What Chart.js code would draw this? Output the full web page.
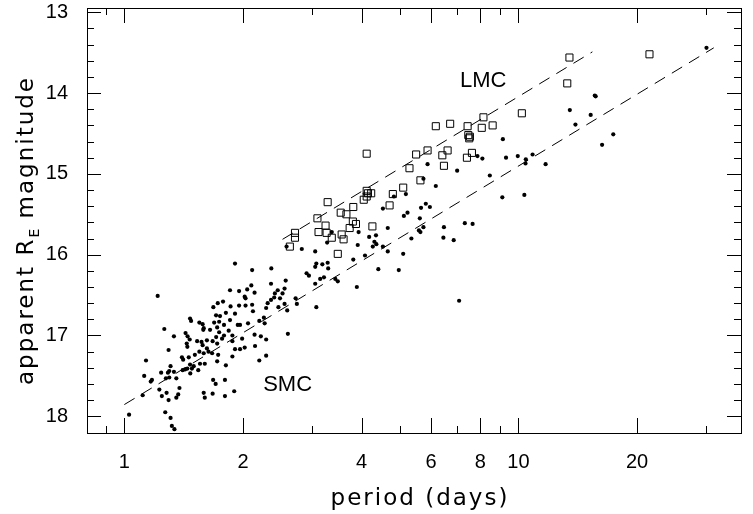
<!DOCTYPE html>
<html lang="en">
<head>
  <meta charset="UTF-8">
  <title>Period - magnitude relation</title>
  <script src="https://cdn.jsdelivr.net/npm/chart.js"></script>
  <style>
    body { margin: 0; background: #fff; }
    canvas { display: block; }
  </style>
</head>
<body>
  <canvas id="plChart" width="753" height="514"></canvas>

  <script>
    // SMC stars (filled dots)
    const smcPeriod = [
      1.215, 1.726, 1.682, 1.709, 1.468, 1.477, 1.55, 1.58, 1.69, 1.72, 1.263, 1.586, 1.43, 1.447, 1.336,
      1.465, 1.53, 1.57, 1.62, 1.675, 1.71, 1.72, 1.44, 1.445, 1.58, 1.295, 1.55, 1.59, 1.635, 1.67,
      1.73, 1.40, 1.41, 1.457, 1.72, 1.468, 1.50, 1.484, 1.445, 1.426, 1.406, 1.54, 1.556, 1.60, 1.135,
      1.31, 1.30, 1.336, 1.29, 1.24, 1.47, 1.123, 1.175, 1.167, 1.30, 1.355, 1.275, 1.68, 1.705, 1.227,
      1.38, 1.28, 1.245, 1.37, 1.355, 1.295, 1.113, 1.59, 1.60, 1.675, 1.27, 1.028, 1.31, 1.32, 1.34,
      1.909, 2.11, 2.36, 2.90, 2.94, 2.567, 2.356, 2.10, 1.854, 1.955, 2.05, 2.14, 2.55, 2.45, 2.41,
      2.52, 2.02, 2.03, 2.40, 2.483, 2.72, 2.356, 2.31, 2.55, 2.74, 2.11, 2.12, 1.955, 2.03, 1.86,
      1.78, 2.46, 2.29, 2.59, 1.81, 1.909, 1.749, 1.74, 1.854, 2.26, 2.20, 1.79, 1.94, 1.966, 2.06,
      2.27, 1.84, 1.74, 1.88, 1.79, 2.14, 2.22, 1.77, 1.88, 1.99, 2.29, 2.02, 1.909, 1.966, 2.146,
      1.88, 1.81, 2.20, 2.29, 2.60, 1.80, 1.90, 1.80, 1.59, 1.65, 1.51, 1.62,
      2.58, 2.82, 3.05, 3.27, 3.36, 3.93, 3.91, 4.18, 4.35, 4.31, 4.36, 4.08, 4.41, 3.81, 3.07,
      3.18, 3.28, 3.05, 3.14, 3.21, 3.29, 3.05, 3.43, 3.48, 3.89, 3.07,
      5.88, 6.99, 5.74, 6.17, 4.83, 5.18, 4.53, 5.66, 5.82, 5.96, 5.12, 5.23, 5.62, 7.31, 7.65,
      4.66, 6.47, 5.59, 5.64, 5.74, 6.45, 6.85, 5.35, 4.27, 4.53, 4.66, 5.10, 4.97, 7.07,
      13.5, 13.95, 9.13, 7.87, 8.1, 9.3, 9.96, 10.44, 10.86, 10.42, 11.72, 8.46, 9.1, 10.35,
      30.0, 15.62, 15.7, 15.25, 17.4, 16.3
    ];
    const smcMag = [
      16.51, 16.60, 16.65, 16.75, 16.79, 16.82, 16.84, 16.86, 16.84, 16.90, 16.92, 16.93, 16.97, 17.01, 17.01,
      17.05, 17.07, 17.08, 17.06, 17.07, 17.02, 17.10, 17.10, 17.14, 17.12, 17.18, 17.20, 17.22, 17.20, 17.22,
      17.24, 17.27, 17.30, 17.27, 17.32, 17.36, 17.38, 17.41, 17.41, 17.42, 17.43, 17.43, 17.35, 17.35, 17.31,
      17.38, 17.44, 17.45, 17.46, 17.46, 17.47, 17.50, 17.55, 17.57, 17.52, 17.53, 17.53, 17.55, 17.60, 17.67,
      17.65, 17.71, 17.75, 17.73, 17.77, 17.80, 17.74, 17.71, 17.77, 17.72, 17.95, 17.98, 18.02, 18.12, 18.16,
      16.11, 16.19, 16.17, 16.23, 16.26, 16.32, 16.36, 16.38, 16.44, 16.45, 16.43, 16.47, 16.42, 16.44, 16.48,
      16.48, 16.52, 16.54, 16.53, 16.54, 16.54, 16.56, 16.60, 16.61, 16.61, 16.62, 16.70, 16.63, 16.63, 16.64,
      16.58, 16.65, 16.66, 16.69, 16.72, 16.73, 16.76, 16.83, 16.81, 16.78, 16.82, 16.87, 16.87, 16.87, 16.85,
      16.85, 16.94, 16.96, 17.00, 17.00, 16.99, 17.01, 17.04, 17.07, 17.04, 17.05, 17.15, 17.17, 17.17, 17.13,
      17.26, 17.37, 17.31, 17.25, 16.98, 17.55, 17.69, 17.75, 16.91, 16.93, 17.24, 17.16,
      15.90, 15.93, 15.96, 15.85, 15.72, 15.72, 15.88, 15.78, 15.76, 15.84, 15.87, 16.01, 16.18, 16.06, 16.11,
      16.12, 16.10, 16.15, 16.30, 16.28, 16.17, 16.36, 16.30, 16.33, 16.40, 16.65,
      14.88, 14.96, 15.06, 15.15, 15.28, 15.25, 15.43, 15.42, 15.37, 15.41, 15.52, 15.48, 15.55, 15.61, 15.62,
      15.67, 15.66, 15.70, 15.72, 15.66, 15.79, 15.82, 15.80, 15.90, 15.90, 15.96, 15.99, 16.19, 16.57,
      14.21, 14.39, 14.57, 14.78, 14.81, 14.80, 14.78, 14.82, 14.76, 14.87, 14.88, 15.02, 15.29, 15.26,
      13.44, 14.03, 14.04, 14.27, 14.51, 14.64
    ];

    // LMC stars (open squares)
    const lmcPeriod = [
      2.63, 2.71, 2.71, 3.09, 3.28, 3.11, 3.24, 3.26, 3.36, 3.54, 3.66, 3.81, 3.80, 3.87, 3.73,
      3.56, 3.60, 3.48, 4.26, 4.05, 4.12, 4.15, 4.12, 4.12, 4.23, 4.71, 4.80, 5.10, 5.64, 5.29,
      6.47, 5.50, 5.88, 6.41, 6.61, 6.17, 6.71, 7.43, 7.46, 7.53, 7.50, 7.40, 7.62, 8.07, 8.60,
      8.15, 10.2, 13.3, 13.47, 21.5
    ];
    const lmcMag = [
      15.90, 15.73, 15.79, 15.55, 15.35, 15.72, 15.64, 15.73, 15.79, 15.48, 15.50, 15.41, 15.59, 15.62, 15.67,
      15.75, 15.81, 15.99, 15.65, 15.32, 15.28, 15.24, 15.21, 14.75, 15.24, 15.39, 15.25, 15.17, 15.08, 14.93,
      14.90, 14.76, 14.71, 14.77, 14.71, 14.41, 14.38, 14.41, 14.52, 14.54, 14.56, 14.80, 14.74, 14.43, 14.40,
      14.30, 14.25, 13.88, 13.56, 13.52
    ];

    // dashed P-L relations (end points)
    const smcFitPeriod = [1.0, 31.3];
    const smcFitMag = [17.855, 13.44];
    const lmcFitPeriod = [2.52, 15.4];
    const lmcFitMag = [15.81, 13.49];

    // axes
    const xMajorTicks = [1, 2, 4, 6, 8, 10, 20];
    const xMinorTicks = [0.9, 3, 5, 7, 9, 30];
    const yMajorTicks = [13, 14, 15, 16, 17, 18];
    const yMinorTicks = [13.2, 13.4, 13.6, 13.8, 14.2, 14.4, 14.6, 14.8, 15.2, 15.4, 15.6, 15.8,
                         16.2, 16.4, 16.6, 16.8, 17.2, 17.4, 17.6, 17.8];

    // labels inside the plot
    const labelText = ['LMC', 'SMC'];
    const labelPeriod = [8.14, 2.596];
    const labelMag = [13.854, 17.616];

    const toPoints = (xs, ys) => xs.map((v, i) => ({ x: v, y: ys[i] }));

    const titleFont = '23px "DejaVu Sans", sans-serif';
    const subFont = '14px "DejaVu Sans", sans-serif';

    const frame = {
      id: 'frame',
      afterDraw(chart) {
        const ctx = chart.ctx;
        const a = chart.chartArea;
        const x = chart.scales.x;
        const y = chart.scales.y;
        ctx.save();
        ctx.strokeStyle = '#000';
        ctx.lineWidth = 1;
        ctx.strokeRect(a.left + 0.5, a.top + 0.5, a.right - a.left, a.bottom - a.top);

        ctx.beginPath();
        const xTick = (v, len) => {
          const px = Math.round(x.getPixelForValue(v)) + 0.5;
          ctx.moveTo(px, a.bottom); ctx.lineTo(px, a.bottom - len);
          ctx.moveTo(px, a.top); ctx.lineTo(px, a.top + len);
        };
        const yTick = (v, len) => {
          const py = Math.round(y.getPixelForValue(v)) + 0.5;
          ctx.moveTo(a.left, py); ctx.lineTo(a.left + len, py);
          ctx.moveTo(a.right, py); ctx.lineTo(a.right - len, py);
        };
        xMajorTicks.forEach(v => xTick(v, 15));
        xMinorTicks.forEach(v => xTick(v, 7));
        yMajorTicks.forEach(v => yTick(v, 14));
        yMinorTicks.forEach(v => yTick(v, 7));
        ctx.stroke();

        ctx.fillStyle = '#000';
        ctx.font = '22px "Liberation Sans", Arial, sans-serif';
        ctx.textAlign = 'center';
        ctx.textBaseline = 'middle';
        labelText.forEach((t, i) => {
          ctx.fillText(t, x.getPixelForValue(labelPeriod[i]), y.getPixelForValue(labelMag[i]));
        });

        // axis titles
        ctx.font = titleFont;
        ctx.letterSpacing = '2px';
        ctx.textBaseline = 'alphabetic';
        ctx.fillText('period (days)', (a.left + a.right) / 2 + 6, 505);

        ctx.translate(33, (a.top + a.bottom) / 2 + 10);
        ctx.rotate(-Math.PI / 2);
        ctx.textAlign = 'left';
        const p1 = 'apparent R', sub = 'E', p2 = ' magnitude';
        const w1 = ctx.measureText(p1).width;
        const w2 = ctx.measureText(p2).width;
        ctx.font = subFont;
        ctx.letterSpacing = '1px';
        const ws = ctx.measureText(sub).width;
        let cx = -(w1 + ws + w2) / 2;
        ctx.font = titleFont;
        ctx.letterSpacing = '2px';
        ctx.fillText(p1, cx, 0);
        cx += w1;
        ctx.font = subFont;
        ctx.letterSpacing = '1px';
        ctx.fillText(sub, cx, 6);
        cx += ws;
        ctx.font = titleFont;
        ctx.letterSpacing = '2px';
        ctx.fillText(p2, cx, 0);
        ctx.restore();
      }
    };

    const tickFont = { family: '"Liberation Sans", Arial, sans-serif', size: 20 };

    new Chart(document.getElementById('plChart'), {
      type: 'scatter',
      data: {
        datasets: [
          {
            label: 'SMC',
            data: toPoints(smcPeriod, smcMag),
            pointStyle: 'circle',
            pointRadius: 2.1,
            pointBackgroundColor: '#000',
            pointBorderWidth: 0
          },
          {
            label: 'LMC',
            data: toPoints(lmcPeriod, lmcMag),
            pointStyle: 'rect',
            pointRadius: 5,
            pointBackgroundColor: 'rgba(0,0,0,0)',
            pointBorderColor: '#000',
            pointBorderWidth: 1
          },
          {
            type: 'line',
            data: toPoints(smcFitPeriod, smcFitMag),
            borderColor: '#000',
            borderWidth: 1,
            borderDash: [12, 8],
            pointRadius: 0,
            fill: false
          },
          {
            type: 'line',
            data: toPoints(lmcFitPeriod, lmcFitMag),
            borderColor: '#000',
            borderWidth: 1,
            borderDash: [12, 8],
            pointRadius: 0,
            fill: false
          }
        ]
      },
      options: {
        responsive: false,
        animation: false,
        layout: { padding: { left: 0, right: 12, top: 8, bottom: 0 } },
        plugins: { legend: { display: false }, tooltip: { enabled: false } },
        scales: {
          x: {
            type: 'logarithmic',
            min: 0.804,
            max: 36.7,
            grid: { display: false, drawTicks: false },
            border: { display: false },
            afterBuildTicks: s => { s.ticks = xMajorTicks.map(v => ({ value: v })); },
            afterFit: s => { s.height = 81; s.paddingLeft = 0; s.paddingRight = 0; },
            ticks: {
              autoSkip: false,
              maxRotation: 0,
              padding: 17,
              color: '#000',
              font: tickFont,
              callback: v => String(v)
            }
          },
          y: {
            type: 'linear',
            reverse: true,
            min: 12.947,
            max: 18.207,
            grid: { display: false, drawTicks: false },
            border: { display: false },
            afterBuildTicks: s => { s.ticks = yMajorTicks.map(v => ({ value: v })); },
            afterFit: s => { s.width = 87; s.paddingTop = 0; s.paddingBottom = 0; },
            ticks: {
              padding: 19,
              color: '#000',
              font: tickFont,
              callback: v => String(v)
            }
          }
        }
      },
      plugins: [frame]
    });
  </script>
</body>
</html>
